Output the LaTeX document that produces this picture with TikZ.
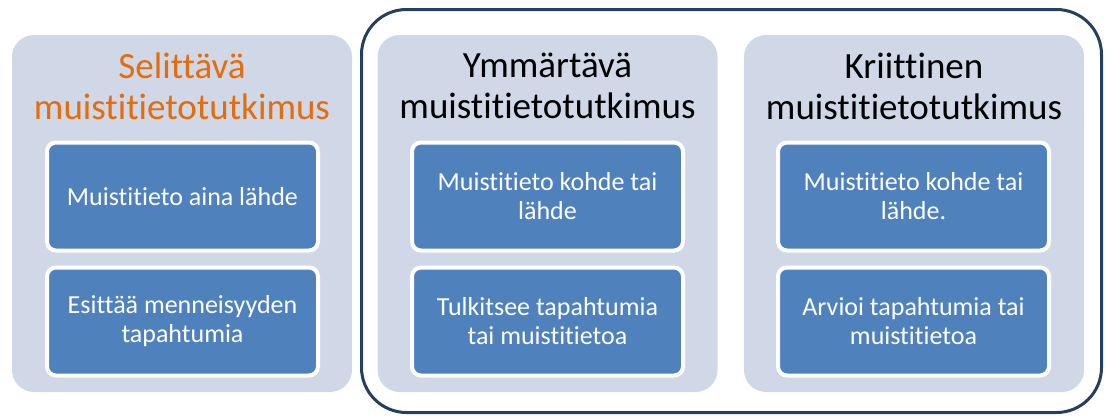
\documentclass[tikz,border=0pt]{standalone}
\usepackage{fontspec}
\setmainfont[Ligatures=NoCommon]{Carlito}
\definecolor{panelfill}{HTML}{D0D8E8}
\definecolor{boxblue}{HTML}{4F81BD}
\definecolor{titleorange}{HTML}{E46C0A}
\definecolor{framenavy}{HTML}{243F60}
\tikzset{
  panel/.style={fill=panelfill, rounded corners=22pt, minimum width=340pt, minimum height=357pt, inner sep=0pt},
  itembox/.style={fill=boxblue, draw=white, line width=4pt, rounded corners=9pt, minimum width=271pt, minimum height=108pt, inner sep=0pt, align=center, text=white, font=\fontsize{26}{29}\selectfont},
  titletext/.style={align=center, inner sep=0pt, font=\fontsize{37}{41}\selectfont},
  frame/.style={draw=framenavy, line width=3pt, rounded corners=45pt}
}
\begin{document}
\begin{tikzpicture}[x=1pt,y=-1pt]
\useasboundingbox (0,0) rectangle (1106,416);
% outer frame
\draw[frame] (361.5,9.5) rectangle (1101.5,412.5);
% panels
\node[panel] (p1) at (182,213.5) {};
\node[panel] (p2) at (547.5,213.5) {};
\node[panel] (p3) at (914,213.5) {};
% titles
\node[titletext, text=titleorange] (t1) at (182,86) {Selittävä\\muistitietotutkimus};
\node[titletext] (t2) at (547.5,86) {Ymmärtävä\\muistitietotutkimus};
\node[titletext] (t3) at (914,86) {Kriittinen\\muistitietotutkimus};
% items
\node[itembox] (a1) at (182.5,196.5) {Muistitieto aina lähde};
\node[itembox] (a2) at (182.5,321.5) {Esittää menneisyyden\\tapahtumia};
\node[itembox] (b1) at (547.5,196.5) {Muistitieto kohde tai\\lähde};
\node[itembox] (b2) at (547.5,321.5) {Tulkitsee tapahtumia\\tai muistitietoa};
\node[itembox] (c1) at (913.5,196.5) {Muistitieto kohde tai\\lähde.};
\node[itembox] (c2) at (913.5,321.5) {Arvioi tapahtumia tai\\muistitietoa};
\end{tikzpicture}
\end{document}
